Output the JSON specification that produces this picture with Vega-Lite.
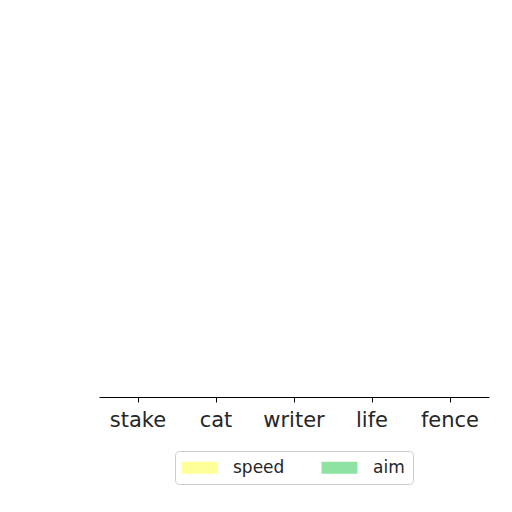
{
  "$schema": "https://vega.github.io/schema/vega-lite/v6.json",
  "autosize": "none",
  "width": 390,
  "height": 377,
  "padding": {"left": 99, "top": 20, "right": 23, "bottom": 115},
  "background": "white",
  "config": {
    "view": {"stroke": null},
    "font": "DejaVu Sans"
  },
  "data": {
    "values": [
      {"word": "stake", "series": "speed", "value": 0},
      {"word": "stake", "series": "aim", "value": 0},
      {"word": "cat", "series": "speed", "value": 0},
      {"word": "cat", "series": "aim", "value": 0},
      {"word": "writer", "series": "speed", "value": 0},
      {"word": "writer", "series": "aim", "value": 0},
      {"word": "life", "series": "speed", "value": 0},
      {"word": "life", "series": "aim", "value": 0},
      {"word": "fence", "series": "speed", "value": 0},
      {"word": "fence", "series": "aim", "value": 0}
    ]
  },
  "mark": {"type": "bar"},
  "encoding": {
    "x": {
      "field": "word",
      "type": "nominal",
      "sort": ["stake", "cat", "writer", "life", "fence"],
      "scale": {"paddingInner": 0.2, "paddingOuter": 0.1},
      "axis": {
        "title": null,
        "labelAngle": 0,
        "labelFont": "DejaVu Sans",
        "labelFontSize": 21,
        "labelColor": "#262626",
        "labelPadding": 7,
        "tickSize": 5,
        "tickColor": "#000000",
        "domainColor": "#000000",
        "domainWidth": 1.2,
        "tickWidth": 1,
        "grid": false
      }
    },
    "xOffset": {"field": "series", "type": "nominal", "sort": ["speed", "aim"]},
    "y": {
      "field": "value",
      "type": "quantitative",
      "scale": {"domain": [0, 1]},
      "axis": null
    },
    "color": {
      "field": "series",
      "type": "nominal",
      "sort": ["speed", "aim"],
      "scale": {"domain": ["speed", "aim"], "range": ["#ffff9a", "#8fe3a2"]},
      "legend": {
        "title": null,
        "orient": "none",
        "legendX": 76,
        "legendY": 431,
        "direction": "horizontal",
        "columns": 2,
        "columnPadding": 36,
        "padding": 8,
        "fillColor": "white",
        "strokeColor": "#cccccc",
        "cornerRadius": 4,
        "symbolType": "M-3,-1H3V1H-3Z",
        "symbolSize": 144,
        "symbolOffset": 8,
        "symbolStrokeWidth": 0,
        "symbolOpacity": 1,
        "labelOffset": 25,
        "labelFont": "DejaVu Sans",
        "labelFontSize": 17,
        "labelColor": "#262626"
      }
    }
  }
}
